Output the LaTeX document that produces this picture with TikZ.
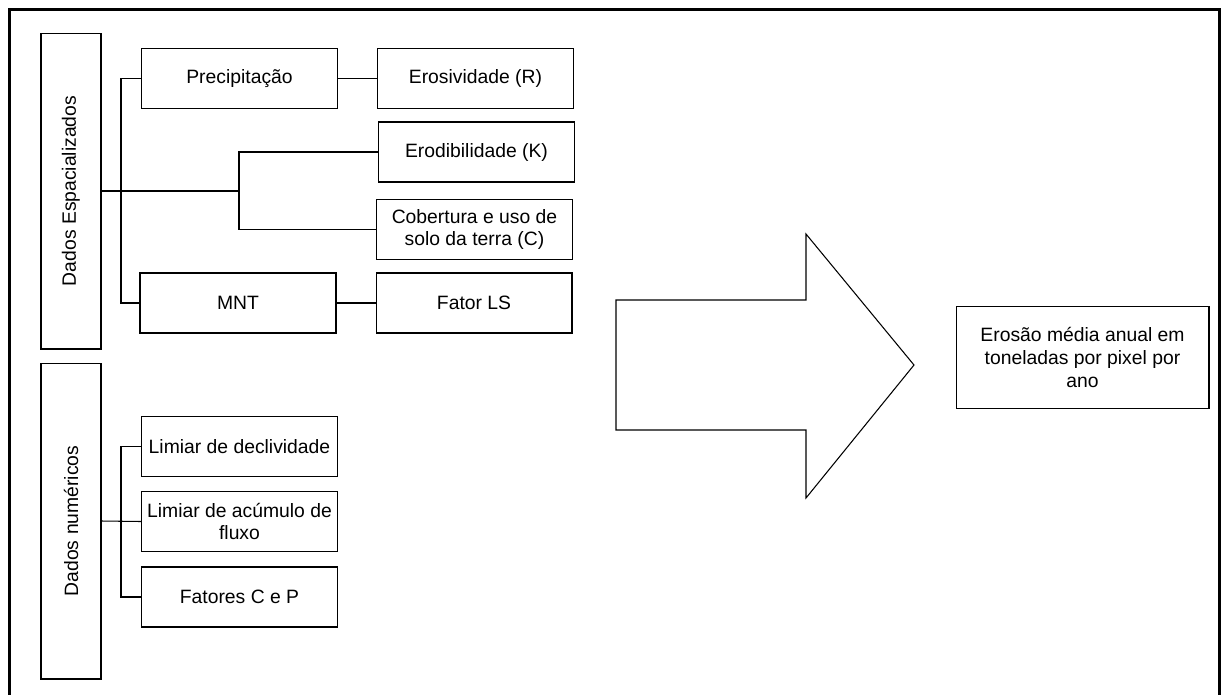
\documentclass[tikz,border=0pt]{standalone}
\usepackage{fontspec}
\setmainfont{Liberation Sans}
\usepackage{tikz}
\usetikzlibrary{positioning}

\begin{document}
\begin{tikzpicture}[
      x=0.02cm, y=-0.02cm,
      caixa/.style={
         draw=black,
         line width=0.6pt,
         align=center,
         inner sep=1pt,
         minimum width=3.92cm,
         minimum height=1.2cm,
         font=\fontsize{11}{13}\selectfont},
      grupo/.style={
         caixa,
         rotate=90,
         minimum width=6.32cm,
         minimum height=1.2cm},
      ligacao/.style={line width=0.6pt},
      node distance=0.78cm
      ]
\useasboundingbox (0,0) rectangle (1221,694);
\draw[line width=1.7pt] (9.5,720) -- (9.5,9.5) -- (1219.5,9.5) -- (1219.5,720);

\node[grupo] (esp) at (71,191) {Dados Espacializados};
\node[grupo] (num) at (71,521) {Dados numéricos};

\node[caixa] (precip) at (239.5,78.5) {Precipitação};
\node[caixa] (mnt)    at (238,303)    {MNT};
\node[caixa,right=of precip] (eros) {Erosividade (R)};
\node[caixa,right=of mnt   ] (ls)   {Fator LS};
\node[caixa] (erod) at (476.5,152)  {Erodibilidade (K)};
\node[caixa] (cob)  at (474.5,229.5) {Cobertura e uso de\\solo da terra (C)};

\node[caixa] (decl) at (239.5,446.5) {Limiar de declividade};
\node[caixa] (acum) at (239.5,521.5) {Limiar de acúmulo de\\fluxo};
\node[caixa] (fat)  at (239.5,597)   {Fatores C e P};

\node[caixa,minimum width=5.06cm,minimum height=2.04cm] (eroano) at (1082.5,357.5)
   {Erosão média anual em\\toneladas por pixel por\\ano};

\coordinate (jesp) at (239,191);
\coordinate (jpre) at (121,191);
\coordinate (jnum) at (121,521.5);

\draw[ligacao] (esp.south) -- (jesp);
\draw[ligacao] (erod.west) -| (jesp) |- (cob.west);
\draw[ligacao] (precip.west) -| (jpre) |- (mnt.west);
\draw[ligacao] (precip.east) -- (eros.west);
\draw[ligacao] (mnt.east) -- (ls.west);

\draw[ligacao] (num.south) -- (acum.west);
\draw[ligacao] (decl.west) -| (jnum) |- (fat.west);

% seta grande
\draw[ligacao] (616,300) -- (806,300) -- (806,234) -- (914,365)
   -- (806,498) -- (806,430) -- (616,430) -- cycle;

\end{tikzpicture}
\end{document}
